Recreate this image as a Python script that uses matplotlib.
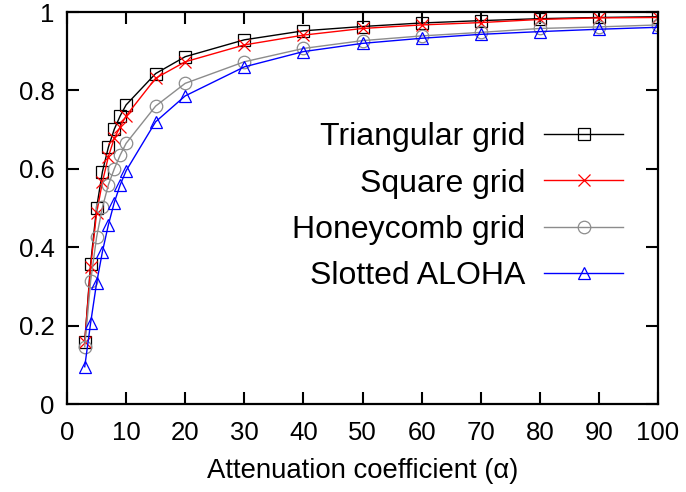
import numpy as np
import matplotlib
matplotlib.use("Agg")
import matplotlib.pyplot as plt

plt.rcParams['font.family'] = ['Liberation Sans', 'DejaVu Sans']

alpha = [3, 4, 5, 6, 7, 8, 9, 10, 15, 20, 30, 40, 50, 60, 70, 80, 90, 100]

triangular = [0.158, 0.358, 0.500, 0.593, 0.655, 0.701, 0.735, 0.763, 0.843, 0.886,
              0.929, 0.952, 0.963, 0.972, 0.978, 0.983, 0.986, 0.988]
square = [0.159, 0.350, 0.486, 0.567, 0.631, 0.678, 0.707, 0.735, 0.831, 0.873,
          0.916, 0.941, 0.958, 0.967, 0.973, 0.981, 0.985, 0.986]
honeycomb = [0.146, 0.314, 0.425, 0.502, 0.559, 0.600, 0.635, 0.665, 0.760, 0.818,
             0.873, 0.907, 0.927, 0.939, 0.948, 0.958, 0.962, 0.967]
aloha = [0.095, 0.207, 0.308, 0.389, 0.457, 0.514, 0.559, 0.595, 0.720, 0.786,
         0.860, 0.899, 0.920, 0.933, 0.943, 0.950, 0.956, 0.961]

labels = ["Triangular grid", "Square grid", "Honeycomb grid", "Slotted ALOHA"]

fig = plt.figure(figsize=(6.86, 4.92), dpi=100)
ax = fig.add_axes([67 / 686, 1 - 404 / 492, 591 / 686, 392 / 492])

ms = 9
ax.plot(alpha, triangular, color='black', lw=1, marker='s', ms=ms,
        mfc='none', mec='black', mew=0.9, label=labels[0])
ax.plot(alpha, square, color='red', lw=1, marker='x', ms=ms,
        mec='red', mew=0.9, label=labels[1])
ax.plot(alpha, honeycomb, color='#8c8c8c', lw=1, marker='o', ms=ms,
        mfc='none', mec='#8c8c8c', mew=0.9, label=labels[2])
ax.plot(alpha, aloha, color='blue', lw=1, marker='^', ms=ms,
        mfc='none', mec='blue', mew=0.9, label=labels[3])

ax.set_xlim(0, 100)
ax.set_ylim(0, 1)
ax.set_xticks(np.arange(0, 101, 10))
ax.set_yticks([0, 0.2, 0.4, 0.6, 0.8, 1])
ax.set_yticklabels(['0', '0.2', '0.4', '0.6', '0.8', '1'])
ax.tick_params(direction='in', length=8.5, width=1.5, top=True, right=True,
               labelsize=18.5)
ax.tick_params(axis='x', pad=12.5)
ax.tick_params(axis='y', pad=9)
for s in ax.spines.values():
    s.set_linewidth(1.6)

ax.set_xlabel("Attenuation coefficient (\u03b1)", fontsize=19.8, labelpad=9)

leg = ax.legend(loc='center right', bbox_to_anchor=(0.9408, 0.503), frameon=False,
                fontsize=23, markerfirst=False, handlelength=2.47,
                labelspacing=0.51, handletextpad=0.6, numpoints=1,
                borderpad=0, borderaxespad=0)
for t in leg.get_texts():
    t.set_ha('right')

fig.savefig("out.png", dpi=100)
